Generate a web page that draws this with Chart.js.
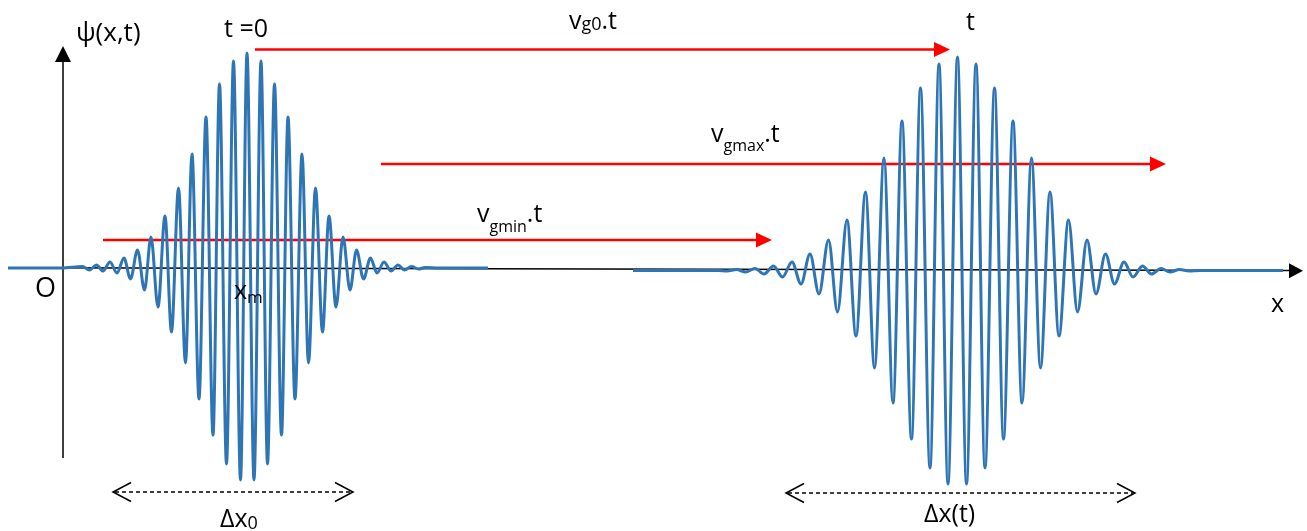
<!DOCTYPE html>
<html>
<head>
<meta charset="UTF-8">
<title>Paquet d'ondes</title>
<style>
  html, body { margin: 0; padding: 0; background: #fff; }
  #chart { display: block; }
</style>
</head>
<body>
<canvas id="chart" width="1307" height="531"></canvas>
<script src="https://cdn.jsdelivr.net/npm/chart.js"></script>
<script>
// ---- data: extremes of the two wave packets (x position, psi) ----
// packet at t = 0
const leftX = [8, 62, 82.5, 89.5, 96.5, 103, 110, 117, 124, 130.5, 137.5, 144.5, 151, 158, 165, 171.5,
  178.5, 185.5, 192, 199, 206, 213, 219.5, 226.5, 233.5, 240.5, 247, 254, 261, 267.5, 274.5, 281.5,
  288, 295, 302, 308.5, 315.5, 322.5, 329, 336, 343, 350, 356.5, 363.5, 370.5, 377, 384, 391, 398,
  404.5, 411.5, 418.5, 425, 440, 488];
const leftPsi = [0, 0, 1.5, -2, 3, -3, 6, -5, 10, -11, 18, -22, 31, -39, 52, -64,
  80, -95, 114, -131, 151, -167, 184, -196, 207, -212, 215, -212, 207, -196, 184, -167,
  151, -131, 114, -95, 80, -64, 52, -39, 31, -22, 18, -11, 10, -5, 6, -3, 3,
  -2, 1.5, -1, 0.5, 0, 0];

// packet at time t (spread out)
const rightX = [633, 718, 727, 736.5, 745.5, 755, 764, 773.5, 782.5, 792, 801, 810, 819, 828.5, 837.5,
  847, 856, 865.5, 874.5, 884, 893, 902, 911.5, 920.5, 930, 939, 948, 957.5, 966.5, 976, 985, 994.5,
  1003.5, 1013, 1022, 1031.5, 1040.5, 1050, 1059, 1068.5, 1077.5, 1087, 1096, 1105.5, 1114.5, 1124,
  1133, 1142.5, 1151.5, 1161, 1170, 1179.5, 1189, 1200, 1283];
const rightPsi = [0, 0, -0.5, 1, -1.5, 2, -3.5, 4.5, -6.5, 8.5, -13.5, 16.5, -23.5, 30.5, -41.5,
  50.5, -65.5, 78.5, -97.5, 112.5, -132.5, 149.5, -168.5, 182.5, -197.5, 206.5, -213.5, 213.5, -213.5, 206.5, -197.5, 182.5,
  -168.5, 149.5, -132.5, 112.5, -97.5, 78.5, -65.5, 50.5, -41.5, 30.5, -23.5, 16.5, -13.5, 8.5,
  -6.5, 4.5, -3.5, 2, -1.5, 1, -0.5, 0, 0];

// group-velocity arrows: start x, end x, height
const arrowStart = [255, 381, 103];
const arrowEnd = [950, 1166, 772];
const arrowPsi = [218.5, 104, 28];

// spread markers (dashed double arrows)
const spreadFrom = [113, 786];
const spreadTo = [353, 1135];
const spreadPsi = [-224, -225];

const rightShift = -2.5;   // right packet sits a little lower
const blue = 'rgb(46,117,182)';
const red = '#ff0000';
const FONT = '"Open Sans", "DejaVu Sans", sans-serif';

function pts(xs, ys, dy) {
  return xs.map((x, i) => ({ x: x, y: ys[i] + (dy || 0) }));
}

const datasets = [
  { data: pts(leftX, leftPsi), borderColor: blue, borderWidth: 3, cubicInterpolationMode: 'monotone', order: 0 },
  { data: pts(rightX, rightPsi, rightShift), borderColor: blue, borderWidth: 3, cubicInterpolationMode: 'monotone', order: 0 },
  // axes
  { data: [{ x: 17, y: 0.3 }, { x: 1291, y: -2.6 }], borderColor: '#000', borderWidth: 1.5, order: 2 },
  { data: [{ x: 63, y: 207 }, { x: 63, y: -190 }], borderColor: '#000', borderWidth: 1.5, order: 2 }
];
arrowStart.forEach((s, i) => {
  datasets.push({ data: [{ x: s, y: arrowPsi[i] }, { x: arrowEnd[i] - 14, y: arrowPsi[i] }],
    borderColor: red, borderWidth: 2.5, order: 1 });
});
spreadFrom.forEach((s, i) => {
  datasets.push({ data: [{ x: s + 2, y: spreadPsi[i] }, { x: spreadTo[i] - 2, y: spreadPsi[i] }],
    borderColor: '#000', borderWidth: 1.6, borderDash: [4, 3], order: 1 });
});

// text labels: runs of text, optional smaller subscripts
const labels = [
  { x: 76, y: 227, runs: [['ψ(x,t)', 26]] },
  { x: 224, y: 231, runs: [['t =0', 25]] },
  { x: 569, y: 239, runs: [['v', 25], ['g0', 18, 1], ['.t', 25]] },
  { x: 966, y: 238, runs: [['t', 25]] },
  { x: 711, y: 126, runs: [['v', 25], ['gmax', 16, 9], ['.t', 25]] },
  { x: 477, y: 46, runs: [['v', 25], ['gmin', 16, 10], ['.t', 25]] },
  { x: 35, y: -29, runs: [['O', 27]] },
  { x: 234, y: -31, runs: [['x', 25], ['m', 17, 4]] },
  { x: 1271, y: -44, runs: [['x', 25]] },
  { x: 220, y: -259, runs: [['Δx', 25], ['0', 18, 2]] },
  { x: 924, y: -254, runs: [['Δx(t)', 25]] }
];

const decorations = {
  id: 'decorations',
  beforeDraw(chart) {
    const c = chart.ctx;
    c.save();
    c.fillStyle = '#fff';
    c.fillRect(0, 0, chart.width, chart.height);
    c.restore();
  },
  afterDatasetsDraw(chart) {
    const c = chart.ctx;
    const X = v => chart.scales.x.getPixelForValue(v);
    const Y = v => chart.scales.y.getPixelForValue(v);
    c.save();

    // axis arrowheads
    c.fillStyle = '#000';
    c.beginPath();
    c.moveTo(X(63), Y(222)); c.lineTo(X(63) - 8, Y(222) + 16); c.lineTo(X(63) + 8, Y(222) + 16);
    c.closePath(); c.fill();
    c.beginPath();
    c.moveTo(X(1303), Y(-2.7)); c.lineTo(X(1303) - 14, Y(-2.7) - 7.5); c.lineTo(X(1303) - 14, Y(-2.7) + 7.5);
    c.closePath(); c.fill();

    // red arrowheads
    c.fillStyle = red;
    arrowEnd.forEach((e, i) => {
      const tx = X(e), ty = Y(arrowPsi[i]);
      c.beginPath();
      c.moveTo(tx, ty); c.lineTo(tx - 16, ty - 7.5); c.lineTo(tx - 16, ty + 7.5);
      c.closePath(); c.fill();
    });

    // open chevrons on the spread arrows
    c.strokeStyle = '#000';
    c.lineWidth = 1.5;
    spreadFrom.forEach((s, i) => {
      const y = Y(spreadPsi[i]);
      [[X(s), 1], [X(spreadTo[i]), -1]].forEach(([tx, d]) => {
        c.beginPath();
        c.moveTo(tx + d * 18, y - 9.5); c.lineTo(tx, y); c.lineTo(tx + d * 18, y + 9.5);
        c.stroke();
      });
    });

    // labels
    c.fillStyle = '#000';
    c.textAlign = 'left';
    c.textBaseline = 'alphabetic';
    labels.forEach(l => {
      let cx = X(l.x);
      const by = Y(l.y);
      l.runs.forEach(r => {
        c.font = r[1] + 'px ' + FONT;
        c.fillText(r[0], cx, by + (r[2] || 0));
        cx += c.measureText(r[0]).width;
      });
    });
    c.restore();
  }
};

new Chart(document.getElementById('chart'), {
  type: 'line',
  data: { datasets: datasets },
  options: {
    responsive: false,
    animation: false,
    layout: { padding: 0 },
    elements: { point: { radius: 0 } },
    plugins: { legend: { display: false }, tooltip: { enabled: false } },
    scales: {
      x: { type: 'linear', min: 0, max: 1307, display: false },
      y: { type: 'linear', min: -263, max: 268, display: false }
    }
  },
  plugins: [decorations]
});
</script>
</body>
</html>
